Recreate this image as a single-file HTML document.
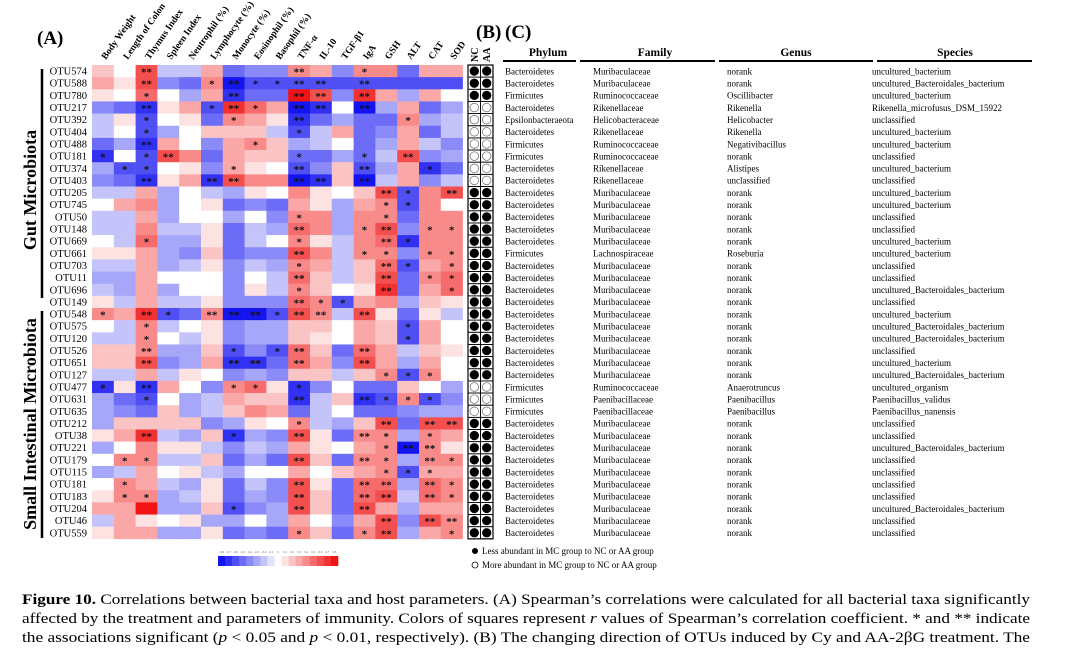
<!DOCTYPE html>
<html><head><meta charset="utf-8">
<style>
html,body{margin:0;padding:0;background:#fff;}
svg{display:block;font-family:"Liberation Serif",serif;}
</style></head>
<body>
<svg id="fig" width="1067" height="648" viewBox="0 0 1067 648" xmlns="http://www.w3.org/2000/svg">
<text x="37" y="44" font-size="19" font-weight="bold">(A)</text>
<text x="476" y="38" font-size="19" font-weight="bold">(B)</text>
<text x="505" y="38" font-size="19" font-weight="bold">(C)</text>
<g id="heat"></g>
<g id="cols"></g>
<g id="rows"></g>
<g id="circ"></g>
<g id="tbl"></g>
<g id="cbar"></g>
<line x1="42" y1="69" x2="42" y2="298" stroke="#000" stroke-width="2.5"/>
<line x1="42" y1="311" x2="42" y2="538" stroke="#000" stroke-width="2.5"/>
<text transform="translate(36,190) rotate(-90)" text-anchor="middle" font-size="18" font-weight="bold">Gut Microbiota</text>
<text transform="translate(36,424) rotate(-90)" text-anchor="middle" font-size="18" font-weight="bold">Small Intestinal Microbiota</text>
<g>
<circle cx="475" cy="551" r="3" fill="#000"/>
<text x="482" y="554" font-size="9">Less abundant in MC group to NC or AA group</text>
<circle cx="475" cy="565" r="3" fill="none" stroke="#000" stroke-width="0.8"/>
<text x="482" y="568" font-size="9">More abundant in MC group to NC or AA group</text>
</g>
<g font-size="15">
<text x="22" y="604" textLength="1008" lengthAdjust="spacingAndGlyphs"><tspan font-weight="bold">Figure 10.</tspan> Correlations between bacterial taxa and host parameters. (A) Spearman’s correlations were calculated for all bacterial taxa significantly</text>
<text x="22" y="623" textLength="1008" lengthAdjust="spacingAndGlyphs">affected by the treatment and parameters of immunity. Colors of squares represent <tspan font-style="italic">r</tspan> values of Spearman’s correlation coefficient. * and ** indicate</text>
<text x="22" y="642" textLength="1008" lengthAdjust="spacingAndGlyphs">the associations significant (<tspan font-style="italic">p</tspan> &lt; 0.05 and <tspan font-style="italic">p</tspan> &lt; 0.01, respectively). (B) The changing direction of OTUs induced by Cy and AA-2βG treatment. The</text>
</g>
</svg>
<script>
const params = ["Body Weight","Length of Colon","Thymus Index","Spleen Index","Neutrophil (%)","Lymphocyte (%)","Monocyte (%)","Eosinophil (%)","Basophil (%)","TNF-α","IL-10","TGF-β1","IgA","GSH","ALT","CAT","SOD"];
const otus = ["OTU574","OTU588","OTU780","OTU217","OTU392","OTU404","OTU488","OTU181","OTU374","OTU403","OTU205","OTU745","OTU50","OTU148","OTU669","OTU661","OTU703","OTU11","OTU696","OTU149","OTU548","OTU575","OTU120","OTU526","OTU651","OTU127","OTU477","OTU631","OTU635","OTU212","OTU38","OTU221","OTU179","OTU115","OTU181","OTU183","OTU204","OTU46","OTU559"];
const rValues = [
[0.2,0,0.6,-0.2,-0.2,0.3,-0.5,-0.4,-0.4,0.4,0.3,-0.4,0.4,0.4,-0.5,0.3,0.3],
[0.3,0.1,0.6,-0.4,-0.5,0.4,-0.8,-0.6,-0.6,-0.6,-0.6,-0.6,-0.6,-0.6,-0.6,-0.6,-0.6],
[0.1,0,0.5,0,-0.3,0.3,-0.7,-0.5,-0.5,0.8,0.6,-0.4,0.7,0.3,-0.3,0.3,0],
[-0.4,-0.5,-0.7,0.1,0.3,-0.6,0.7,0.5,0.3,-0.8,-0.7,0,-0.8,-0.3,0.3,-0.5,-0.3],
[-0.2,0.1,-0.6,0,0.1,-0.5,0.4,0.3,0.1,-0.7,-0.5,-0.3,-0.5,-0.5,0.4,-0.3,-0.2],
[-0.2,0,-0.6,-0.3,0,0.2,0.2,0.2,-0.2,-0.6,-0.2,0.3,-0.5,-0.4,0.3,-0.5,-0.2],
[-0.5,-0.3,-0.7,0.3,0,-0.4,0.3,0.4,0.2,-0.3,-0.2,0,-0.5,-0.3,0.3,-0.2,-0.4],
[-0.7,0,-0.6,0.6,0.4,-0.5,0.3,0.2,0.2,-0.5,-0.5,-0.3,-0.5,-0.2,0.6,-0.4,-0.3],
[-0.3,-0.6,-0.6,0,0.1,-0.4,0.3,0.1,0,-0.6,-0.4,0.2,-0.6,-0.3,0.3,-0.7,-0.5],
[-0.4,-0.5,-0.7,0.1,0.3,-0.7,0.6,0.4,0.4,-0.8,-0.7,0.2,-0.8,-0.2,0.3,-0.4,-0.2],
[-0.2,-0.2,0.3,-0.3,0,-0.2,-0.3,0.1,0,0.4,0.1,0,0.2,0.6,-0.6,0.4,0.6],
[0,0.3,0.4,-0.3,0,0.1,-0.5,-0.4,-0.5,0.3,0.1,-0.3,0.3,0.4,-0.6,0.4,0],
[-0.2,-0.2,0.3,-0.3,0,0,-0.3,0,-0.4,0.4,0.4,-0.3,0.4,0.4,-0.5,0.4,0.4],
[-0.2,-0.2,0.4,-0.2,-0.2,0.1,-0.5,-0.2,-0.3,0.5,0.4,-0.3,0.4,0.6,-0.4,0.4,0.4],
[0,-0.2,0.5,-0.3,-0.3,0.1,-0.5,-0.2,0,0.4,0.1,-0.2,0.4,0.5,-0.7,0.4,0.4],
[0.1,0.1,0.3,-0.3,-0.4,0.2,-0.5,-0.4,-0.4,0.6,0.4,-0.2,0.4,0.4,-0.4,0.4,0.4],
[-0.2,-0.2,0.3,-0.3,-0.2,0.1,-0.4,-0.2,-0.3,0.4,0.3,-0.2,0.2,0.5,-0.6,0.3,0.4],
[-0.3,-0.3,0.3,0,0,0,-0.4,0,-0.2,0.5,0.2,-0.2,0.2,0.6,-0.5,0.4,0.5],
[-0.2,-0.3,0.3,-0.3,0,0,-0.4,0.1,-0.2,0.4,0.2,0,0.1,0.7,-0.5,0.3,0.5],
[0.1,-0.2,0.3,-0.2,-0.2,0.1,-0.4,-0.4,-0.4,0.5,0.4,-0.6,0.3,0.4,-0.3,0.2,0.1],
[0.4,0.3,0.7,-0.6,-0.5,0.4,-0.8,-0.8,-0.6,0.6,0.4,-0.2,0.6,0.1,-0.5,0.1,-0.2],
[0,-0.2,0.4,-0.2,0,0.1,-0.4,-0.3,-0.3,0.2,0.2,0,0.3,0.2,-0.6,0.3,0],
[-0.2,-0.2,0.4,0,-0.2,0.1,-0.4,-0.3,-0.3,0.2,0.1,0,0.3,0.2,-0.6,0.3,0],
[0.2,0.2,0.4,-0.3,-0.3,0.2,-0.6,-0.4,-0.6,0.5,0.2,-0.5,0.5,0.3,-0.2,0.2,0.1],
[0.2,0.2,0.6,-0.4,-0.3,0.3,-0.7,-0.7,-0.5,0.5,0.3,-0.4,0.6,0.3,-0.3,0.3,0],
[-0.2,-0.2,0.3,-0.2,0.1,0,-0.4,-0.3,-0.4,0.2,0.2,-0.2,0.2,0.4,-0.6,0.4,0],
[-0.7,0.1,-0.7,0.3,0,-0.4,0.4,0.5,0.1,-0.7,-0.4,0,-0.5,-0.5,0.2,0,-0.3],
[-0.3,-0.5,-0.6,0,-0.3,-0.2,0.3,0.2,0.2,-0.7,-0.2,0.2,-0.7,-0.6,0.4,-0.6,-0.4],
[-0.3,-0.4,-0.5,0.2,-0.3,-0.2,0.2,0.4,0.3,-0.5,-0.2,0,-0.5,-0.5,-0.4,-0.3,-0.3],
[-0.3,0.2,0.2,0.2,0.2,-0.4,-0.3,0.1,0,0.4,-0.2,-0.3,0.2,0.6,-0.5,0.6,0.6],
[0.1,0.3,0.7,-0.2,-0.3,0.2,-0.7,-0.3,-0.4,0.6,0.1,-0.5,0.4,0.4,-0.3,0.4,0.3],
[-0.3,0,0.4,0.1,0.1,-0.2,-0.4,-0.2,-0.3,0.3,0.1,0,0.3,0.4,-0.8,0.4,0.1],
[0,0.4,0.4,-0.2,-0.2,0.2,-0.5,-0.3,-0.5,0.6,0.2,-0.5,0.4,0.4,-0.3,0.4,0.4],
[-0.3,-0.2,0.3,0,0.1,-0.2,-0.3,0,0,0.3,0,0.2,0.3,0.4,-0.6,0.3,0.3],
[0,0.4,0.3,-0.2,-0.3,0.1,-0.5,-0.2,-0.4,0.6,0.1,-0.5,0.5,0.5,-0.3,0.5,0.4],
[0.1,0.4,0.4,-0.3,-0.2,0.1,-0.5,-0.3,-0.4,0.6,0.2,-0.5,0.5,0.6,-0.2,0.5,0.4],
[0.3,0.3,0.8,-0.3,-0.3,0.2,-0.6,-0.4,-0.3,0.6,0.2,-0.5,0.6,0.3,-0.3,0.3,0.3],
[-0.2,0.3,0.1,0,0.1,-0.3,-0.3,0,-0.3,0.3,0,-0.4,0.3,0.6,-0.4,0.6,0.4],
[0.1,0.3,0.3,-0.3,-0.3,0.1,-0.5,-0.4,-0.5,0.4,0.2,-0.5,0.4,0.6,-0.3,0.3,0.4]
];
const sig = [
[0,0,2,0,0,0,0,0,0,2,0,0,1,0,0,0,0],
[0,0,2,0,0,1,2,1,1,2,2,0,2,0,0,0,0],
[0,0,1,0,0,0,2,0,0,2,2,0,2,0,0,0,0],
[0,0,2,0,0,1,2,1,0,2,2,0,2,0,0,0,0],
[0,0,1,0,0,0,1,0,0,2,0,0,0,0,1,0,0],
[0,0,1,0,0,0,0,0,0,1,0,0,0,0,0,0,0],
[0,0,2,0,0,0,0,1,0,0,0,0,0,0,0,0,0],
[1,0,1,2,0,0,0,0,0,1,0,0,1,0,2,0,0],
[0,1,1,0,0,0,1,0,0,2,0,0,2,0,0,1,0],
[0,0,2,0,0,2,2,0,0,2,2,0,2,0,0,0,0],
[0,0,0,0,0,0,0,0,0,0,0,0,0,2,1,0,2],
[0,0,0,0,0,0,0,0,0,0,0,0,0,1,1,0,0],
[0,0,0,0,0,0,0,0,0,1,0,0,0,1,0,0,0],
[0,0,0,0,0,0,0,0,0,2,0,0,1,2,0,1,1],
[0,0,1,0,0,0,0,0,0,1,0,0,0,2,1,0,0],
[0,0,0,0,0,0,0,0,0,2,0,0,1,1,0,1,1],
[0,0,0,0,0,0,0,0,0,1,0,0,0,2,1,0,1],
[0,0,0,0,0,0,0,0,0,2,0,0,0,2,0,1,1],
[0,0,0,0,0,0,0,0,0,1,0,0,0,2,0,0,1],
[0,0,0,0,0,0,0,0,0,2,1,1,0,0,0,0,0],
[1,0,2,1,0,2,2,2,1,2,2,0,2,0,0,0,0],
[0,0,1,0,0,0,0,0,0,0,0,0,0,0,1,0,0],
[0,0,1,0,0,0,0,0,0,0,0,0,0,0,1,0,0],
[0,0,2,0,0,0,1,0,1,2,0,0,2,0,0,0,0],
[0,0,2,0,0,0,2,2,0,2,0,0,2,0,0,0,0],
[0,0,0,0,0,0,0,0,0,0,0,0,0,1,1,1,0],
[1,0,2,0,0,0,1,1,0,1,0,0,0,0,0,0,0],
[0,0,1,0,0,0,0,0,0,2,0,0,2,1,1,1,0],
[0,0,0,0,0,0,0,0,0,0,0,0,0,0,0,0,0],
[0,0,0,0,0,0,0,0,0,1,0,0,0,2,0,2,2],
[0,0,2,0,0,0,1,0,0,2,0,0,2,1,0,1,0],
[0,0,0,0,0,0,0,0,0,0,0,0,0,1,2,2,0],
[0,1,1,0,0,0,0,0,0,2,0,0,2,1,0,2,1],
[0,0,0,0,0,0,0,0,0,0,0,0,0,1,1,1,0],
[0,1,0,0,0,0,0,0,0,2,0,0,2,2,0,2,1],
[0,1,1,0,0,0,0,0,0,2,0,0,2,2,0,2,1],
[0,0,0,0,0,0,1,0,0,2,0,0,2,0,0,0,0],
[0,0,0,0,0,0,0,0,0,0,0,0,0,2,0,2,2],
[0,0,0,0,0,0,0,0,0,1,0,0,1,2,0,0,1]
];
const lessAbundant = [1,1,1,0,0,0,0,0,0,0,1,1,1,1,1,1,1,1,1,1,1,1,1,1,1,1,0,0,0,1,1,1,1,1,1,1,1,1,1];
const phylum = ["Bacteroidetes","Bacteroidetes","Firmicutes","Bacteroidetes","Epsilonbacteraeota","Bacteroidetes","Firmicutes","Firmicutes","Bacteroidetes","Bacteroidetes","Bacteroidetes","Bacteroidetes","Bacteroidetes","Bacteroidetes","Bacteroidetes","Firmicutes","Bacteroidetes","Bacteroidetes","Bacteroidetes","Bacteroidetes","Bacteroidetes","Bacteroidetes","Bacteroidetes","Bacteroidetes","Bacteroidetes","Bacteroidetes","Firmicutes","Firmicutes","Firmicutes","Bacteroidetes","Bacteroidetes","Bacteroidetes","Bacteroidetes","Bacteroidetes","Bacteroidetes","Bacteroidetes","Bacteroidetes","Bacteroidetes","Bacteroidetes"];
const family = ["Muribaculaceae","Muribaculaceae","Ruminococcaceae","Rikenellaceae","Helicobacteraceae","Rikenellaceae","Ruminococcaceae","Ruminococcaceae","Rikenellaceae","Rikenellaceae","Muribaculaceae","Muribaculaceae","Muribaculaceae","Muribaculaceae","Muribaculaceae","Lachnospiraceae","Muribaculaceae","Muribaculaceae","Muribaculaceae","Muribaculaceae","Muribaculaceae","Muribaculaceae","Muribaculaceae","Muribaculaceae","Muribaculaceae","Muribaculaceae","Ruminococcaceae","Paenibacillaceae","Paenibacillaceae","Muribaculaceae","Muribaculaceae","Muribaculaceae","Muribaculaceae","Muribaculaceae","Muribaculaceae","Muribaculaceae","Muribaculaceae","Muribaculaceae","Muribaculaceae"];
const genus = ["norank","norank","Oscillibacter","Rikenella","Helicobacter","Rikenella","Negativibacillus","norank","Alistipes","unclassified","norank","norank","norank","norank","norank","Roseburia","norank","norank","norank","norank","norank","norank","norank","norank","norank","norank","Anaerotruncus","Paenibacillus","Paenibacillus","norank","norank","norank","norank","norank","norank","norank","norank","norank","norank"];
const species = ["uncultured_bacterium","uncultured_Bacteroidales_bacterium","uncultured_bacterium","Rikenella_microfusus_DSM_15922","unclassified","uncultured_bacterium","uncultured_bacterium","unclassified","uncultured_bacterium","unclassified","uncultured_bacterium","uncultured_bacterium","unclassified","unclassified","uncultured_bacterium","uncultured_bacterium","unclassified","unclassified","uncultured_Bacteroidales_bacterium","unclassified","uncultured_bacterium","uncultured_Bacteroidales_bacterium","uncultured_Bacteroidales_bacterium","unclassified","uncultured_bacterium","uncultured_Bacteroidales_bacterium","uncultured_organism","Paenibacillus_validus","Paenibacillus_nanensis","unclassified","unclassified","uncultured_Bacteroidales_bacterium","unclassified","unclassified","unclassified","unclassified","uncultured_Bacteroidales_bacterium","unclassified","unclassified"];
const scaleTicks = ["-0.8","-0.7","-0.6","-0.5","-0.4","-0.3","-0.2","-0.1","0","0.1","0.2","0.3","0.4","0.5","0.6","0.7","0.8"];

const NS = "http://www.w3.org/2000/svg";
const X0 = 92, COLW = 21.8, Y0 = 65, ROWH = 12.15;
const xPos = j => X0 + j*COLW;
const yPos = i => Y0 + i*ROWH;
function color(r){
  const t = Math.min(Math.abs(r)/0.8,1);
  const lo = Math.round(255 - 235*t), hi = Math.round(255 - 15*t);
  return r >= 0 ? `rgb(${hi},${lo},${lo})` : `rgb(${lo},${lo},${hi})`;
}
function mk(tag, attrs, parent){
  const e = document.createElementNS(NS, tag);
  for (const k in attrs) e.setAttribute(k, attrs[k]);
  parent.appendChild(e);
  return e;
}
const heat = document.getElementById('heat');
rValues.forEach((row,i)=>{
  row.forEach((r,j)=>{
    const c = mk('rect',{x:xPos(j),y:yPos(i),width:COLW+0.3,height:ROWH+0.3,fill:color(r)},heat);
    
    
    const s = sig[i][j];
    if (s){
      const t = mk('text',{x:xPos(j)+COLW/2,y:yPos(i)+ROWH/2+4.5,'text-anchor':'middle','font-size':'11','font-weight':'bold',fill:'#111'},heat);
      t.textContent = s===2 ? '**' : '*';
      
      
    }
  });
});
const cols = document.getElementById('cols');
params.forEach((p,j)=>{
  const t = mk('text',{transform:`translate(${xPos(j)+COLW/2+3},60) rotate(-55)`,'font-size':'9.5','font-weight':'bold'},cols);
  t.textContent = p;
  
  
});
const rowsG = document.getElementById('rows');
otus.forEach((o,i)=>{
  const t = mk('text',{x:87,y:yPos(i)+ROWH/2+3.5,'text-anchor':'end','font-size':'10.5'},rowsG);
  t.textContent = o;
  
  
});
const circ = document.getElementById('circ');
['NC','AA'].forEach((g,k)=>{
  const t = mk('text',{transform:`translate(${478+k*12},62) rotate(-90)`,'font-size':'10','font-weight':'bold'},circ);
  t.textContent = g;
  
  
});
const box = mk('rect',{x:468,y:Y0,width:25,height:ROWH*otus.length,fill:'none',stroke:'#000','stroke-width':1.2},circ);


lessAbundant.forEach((v,i)=>{
  [0,1].forEach(k=>{
    const cx = 474.3+k*12.4, cy = yPos(i)+ROWH/2;
    const cell = mk('rect',{x:468+k*12.5,y:yPos(i),width:12.5,height:ROWH,fill:'none',stroke:'#000','stroke-width':0.8},circ);
    
    
    const c = mk('circle',{cx:cx,cy:cy,r:4.3,fill:v?'#000':'#fff',stroke:v?'#000':'#666','stroke-width':0.7},circ);
    
    
  });
});
const tbl = document.getElementById('tbl');
const colsT = [
  {x:505, hx:548, lx1:503, lx2:576, data:phylum, h:'Phylum'},
  {x:593, hx:655, lx1:580, lx2:715, data:family, h:'Family'},
  {x:727, hx:796, lx1:719, lx2:873, data:genus, h:'Genus'},
  {x:872, hx:955, lx1:877, lx2:1032, data:species, h:'Species'}
];
colsT.forEach(c=>{
  const h = mk('text',{x:c.hx,y:56,'text-anchor':'middle','font-size':'11.5','font-weight':'bold'},tbl);
  h.textContent = c.h;
  
  
  const l = mk('line',{x1:c.lx1,y1:61,x2:c.lx2,y2:61,stroke:'#000','stroke-width':2},tbl);
  
  
  c.data.forEach((v,i)=>{
    const t = mk('text',{x:c.x,y:yPos(i)+ROWH/2+3.3,'font-size':'9'},tbl);
    t.textContent = v;
    
    
  });
});
const cbar = document.getElementById('cbar');
const CB0 = 218, CBW = 120/scaleTicks.length;
scaleTicks.forEach((v,k)=>{
  const r = mk('rect',{x:CB0+k*CBW,y:556,width:CBW+0.3,height:10,fill:color(parseFloat(v))},cbar);
  
  
  const t = mk('text',{x:CB0+k*CBW+CBW/2,y:553,'text-anchor':'middle','font-size':'3',fill:'#555'},cbar);
  t.textContent = v;
  
  
});
</script>
</body></html>
